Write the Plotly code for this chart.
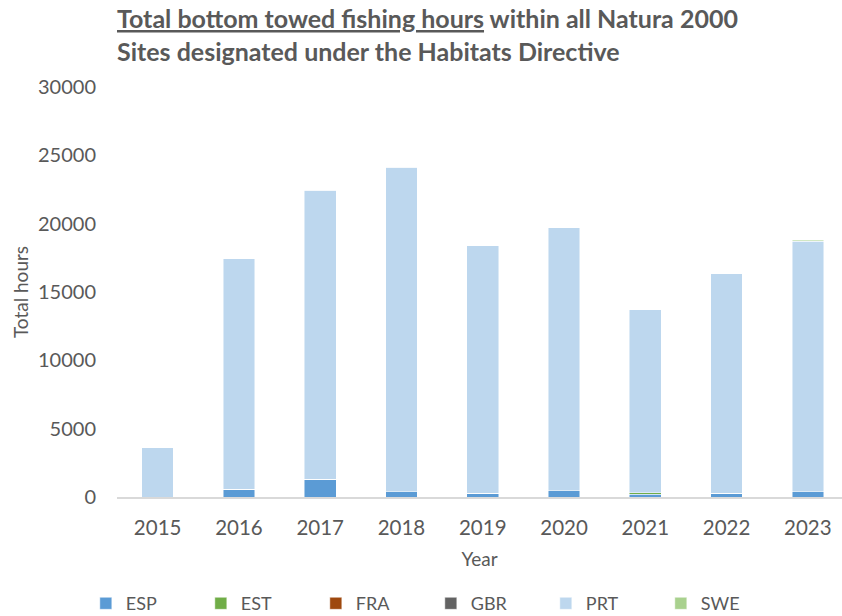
import plotly.graph_objects as go

years = ["2015", "2016", "2017", "2018", "2019", "2020", "2021", "2022", "2023"]
esp = [0, 550, 1300, 370, 280, 440, 200, 280, 370]
est = [0, 0, 0, 0, 0, 0, 100, 0, 0]
fra = [0, 0, 0, 0, 0, 0, 0, 0, 0]
gbr = [0, 0, 0, 0, 0, 0, 0, 0, 0]
prt = [3620, 16890, 21160, 23750, 18110, 19260, 13400, 16040, 18350]
swe = [0, 0, 0, 0, 0, 0, 0, 0, 80]

series = [
    ("ESP", esp, "#5B9BD5"),
    ("EST", est, "#70AD47"),
    ("FRA", fra, "#9E480E"),
    ("GBR", gbr, "#636363"),
    ("PRT", prt, "#BDD7EE"),
    ("SWE", swe, "#A9D18E"),
]

FONT = "Lato"
GREY = "#595959"

fig = go.Figure()
for name, vals, color in series:
    fig.add_trace(go.Bar(
        x=years, y=vals, name=name,
        marker=dict(color=color, line=dict(color="rgba(255,255,255,0.6)", width=0.8)),
        width=0.39,
    ))

fig.update_layout(
    barmode="stack",
    width=842, height=616,
    paper_bgcolor="white", plot_bgcolor="white",
    margin=dict(l=117, r=0, t=87, b=119, autoexpand=False),
    font=dict(family=FONT, color=GREY, size=18),
    title=dict(
        text='<span style="text-decoration:underline">Total bottom towed fishing hours</span>'
             ' within all Natura 2000<br>Sites designated under the Habitats Directive',
        x=117 / 842, xanchor="left", xref="container",
        y=1 - 28 / 616, yanchor="top", yref="container",
        font=dict(family=FONT, size=25, color=GREY, weight="bold"),
    ),
    xaxis=dict(
        type="category", range=[-0.5, 8.42],
        showline=True, linecolor="#D9D9D9", linewidth=1.5,
        ticks="", showgrid=False, ticklabelstandoff=12,
        tickfont=dict(size=20.5, color=GREY),
        title=dict(text="Year", font=dict(size=19, color=GREY), standoff=14),
    ),
    yaxis=dict(
        range=[0, 30000], tickvals=[0, 5000, 10000, 15000, 20000, 25000, 30000],
        tickformat="d",
        showgrid=False, zeroline=False, showline=False,
        ticks="", ticklabelstandoff=20,
        tickfont=dict(size=20, color=GREY),
        title=dict(text="Total hours", font=dict(size=19, color=GREY), standoff=4),
    ),
    legend=dict(
        orientation="h", x=-0.043, xanchor="left", y=-0.26, yanchor="middle",
        entrywidth=70, entrywidthmode="pixels",
        font=dict(size=18, color=GREY), itemwidth=30, traceorder="normal",
    ),
)

fig.write_html("out.html")
